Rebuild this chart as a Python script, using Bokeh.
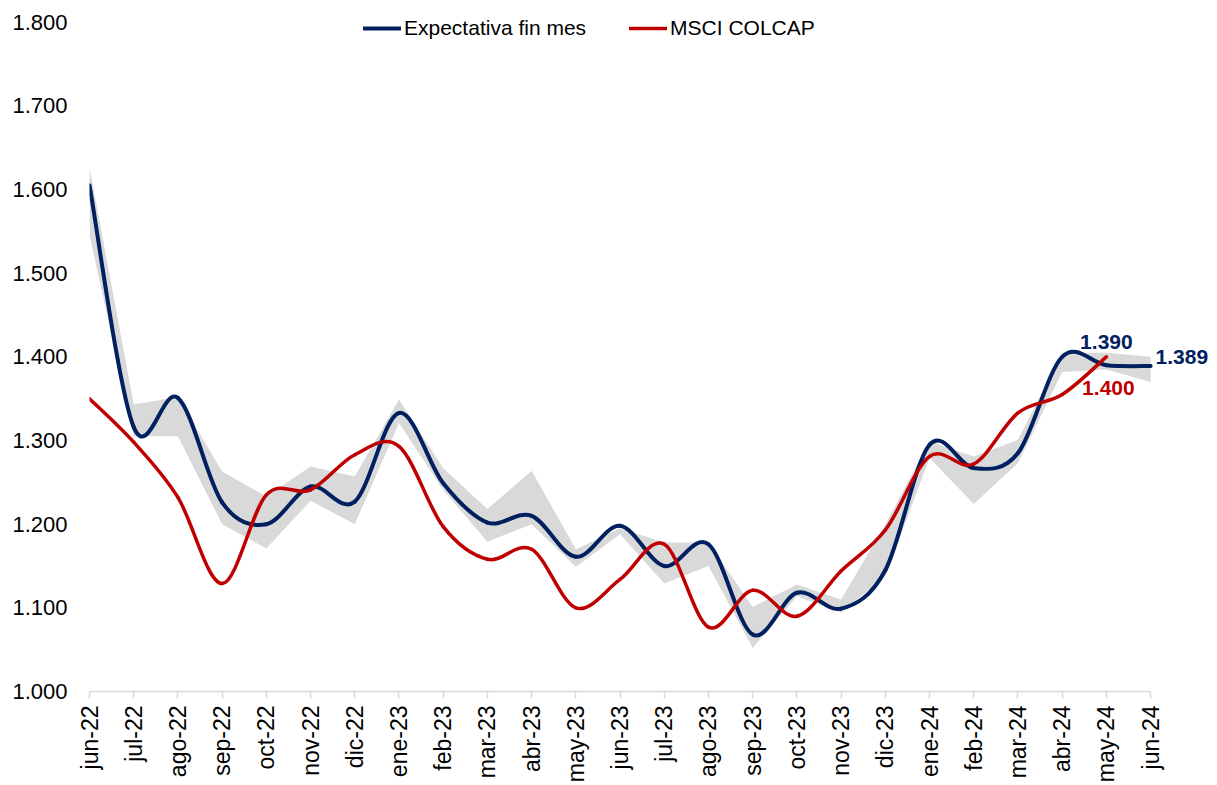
import numpy as np
from bokeh.plotting import figure
from bokeh.models import Range1d, FixedTicker, Legend, LegendItem, Label, ColumnDataSource
from bokeh.embed import file_html
from bokeh.resources import INLINE

months = ["jun-22", "jul-22", "ago-22", "sep-22", "oct-22", "nov-22", "dic-22",
          "ene-23", "feb-23", "mar-23", "abr-23", "may-23", "jun-23", "jul-23",
          "ago-23", "sep-23", "oct-23", "nov-23", "dic-23", "ene-24", "feb-24",
          "mar-24", "abr-24", "may-24", "jun-24"]

expectativa = [1605, 1316, 1351, 1226, 1200, 1245, 1227, 1333, 1249, 1202, 1210,
               1161, 1198, 1150, 1176, 1068, 1118, 1099, 1145, 1295, 1267, 1285,
               1400, 1390, 1389]

colcap = [1350, 1298, 1232, 1129, 1235, 1241, 1283, 1293, 1197, 1158, 1170, 1100,
          1134, 1176, 1077, 1121, 1090, 1144, 1193, 1281, 1272, 1333, 1355, 1400]

rango_min = [1546, 1305, 1305, 1200, 1171, 1228, 1200, 1321, 1241, 1179, 1200, 1149,
             1188, 1129, 1150, 1052, 1114, 1094, 1138, 1279, 1224, 1273, 1382, 1385, 1370]
rango_max = [1627, 1343, 1352, 1263, 1233, 1269, 1257, 1349, 1267, 1218, 1264, 1170,
             1195, 1178, 1178, 1101, 1128, 1110, 1200, 1299, 1281, 1301, 1405, 1405, 1400]

y_ticks = [1000, 1100, 1200, 1300, 1400, 1500, 1600, 1700, 1800]
y_tick_labels = ["1.000", "1.100", "1.200", "1.300", "1.400", "1.500", "1.600", "1.700", "1.800"]

NAVY = "#002060"
RED = "#C00000"
GRAY = "#D9D9D9"
FONT = "Liberation Sans"


def fmt(v):
    return f"{v:,.0f}".replace(",", ".")


def bezier_source(vals):
    y = np.array(vals, dtype=float)
    n = len(y)
    x = np.arange(n, dtype=float)
    xp = np.concatenate([[x[0]], x, [x[-1]]])
    yp = np.concatenate([[y[0]], y, [y[-1]]])
    i = np.arange(n - 1)
    return ColumnDataSource(dict(
        x0=x[:-1], y0=y[:-1], x1=x[1:], y1=y[1:],
        cx0=xp[i + 1] + (xp[i + 2] - xp[i]) / 6.0,
        cy0=yp[i + 1] + (yp[i + 2] - yp[i]) / 6.0,
        cx1=xp[i + 2] - (xp[i + 3] - xp[i + 1]) / 6.0,
        cy1=yp[i + 2] - (yp[i + 3] - yp[i + 1]) / 6.0,
    ))


W, H = 1215, 785
n_last = len(months) - 1
p = figure(width=W, height=H, output_backend="svg", toolbar_location=None,
           x_range=Range1d(0, n_last + 1.4), y_range=Range1d(y_ticks[0], y_ticks[-1] + 20))
p.min_border_left = 89
p.min_border_right = 3
p.min_border_top = 5
p.min_border_bottom = 93
p.outline_line_color = None
p.xgrid.visible = False
p.ygrid.visible = False
p.background_fill_color = "white"
p.border_fill_color = "white"

idx = list(range(len(months)))
p.varea(x=idx, y1=rango_min, y2=rango_max, fill_color=GRAY, fill_alpha=1.0)

b1 = p.bezier(x0="x0", y0="y0", x1="x1", y1="y1", cx0="cx0", cy0="cy0", cx1="cx1", cy1="cy1",
              source=bezier_source(expectativa), line_color=NAVY, line_width=4, line_cap="round")
b2 = p.bezier(x0="x0", y0="y0", x1="x1", y1="y1", cx0="cx0", cy0="cy0", cx1="cx1", cy1="cy1",
              source=bezier_source(colcap), line_color=RED, line_width=3.5, line_cap="round")

legend = Legend(items=[LegendItem(label="Expectativa fin mes", renderers=[b1], index=0),
                       LegendItem(label="MSCI COLCAP", renderers=[b2], index=0)],
                orientation="horizontal", location=(274, 651),
                glyph_width=38, glyph_height=24, label_standoff=3, spacing=43,
                padding=0, margin=0, border_line_alpha=0, background_fill_alpha=0,
                label_text_font=FONT, label_text_font_size="21px",
                label_text_color="#000000", label_height=24)
p.add_layout(legend, "center")

# axes
xa = p.xaxis[0]
xa.ticker = FixedTicker(ticks=idx)
xa.bounds = (0, n_last)
xa.major_label_overrides = {i: m for i, m in enumerate(months)}
xa.major_label_orientation = np.pi / 2
xa.axis_line_color = GRAY
xa.axis_line_width = 1.5
xa.major_tick_line_color = GRAY
xa.major_tick_line_width = 1.5
xa.major_tick_out = 7
xa.major_tick_in = 0
xa.minor_tick_line_color = None
xa.major_label_standoff = 7
xa.major_label_text_font = FONT
xa.major_label_text_font_size = "23px"
xa.major_label_text_color = "#000000"

ya = p.yaxis[0]
ya.ticker = FixedTicker(ticks=y_ticks)
ya.major_label_overrides = {t: l for t, l in zip(y_ticks, y_tick_labels)}
ya.axis_line_color = None
ya.major_tick_line_color = None
ya.minor_tick_line_color = None
ya.major_tick_out = 0
ya.major_tick_in = 0
ya.major_label_standoff = 22
ya.major_label_text_font = FONT
ya.major_label_text_font_size = "22px"
ya.major_label_text_color = "#000000"

# end labels
last_b = len(expectativa) - 1
last_r = len(colcap) - 1
p.add_layout(Label(x=last_r, y=expectativa[last_r], text=fmt(expectativa[last_r]),
                   x_offset=0, y_offset=23, text_align="center", text_baseline="middle",
                   text_font=FONT, text_font_size="21px", text_font_style="bold",
                   text_color=NAVY))
p.add_layout(Label(x=last_r, y=colcap[last_r], text=fmt(colcap[last_r]),
                   x_offset=2, y_offset=-31, text_align="center", text_baseline="middle",
                   text_font=FONT, text_font_size="21px", text_font_style="bold",
                   text_color=RED))
p.add_layout(Label(x=last_b, y=expectativa[last_b], text=fmt(expectativa[last_b]),
                   x_offset=5, y_offset=9, text_align="left", text_baseline="middle",
                   text_font=FONT, text_font_size="21px", text_font_style="bold",
                   text_color=NAVY))

open("out.html", "w").write(file_html(p, INLINE))
